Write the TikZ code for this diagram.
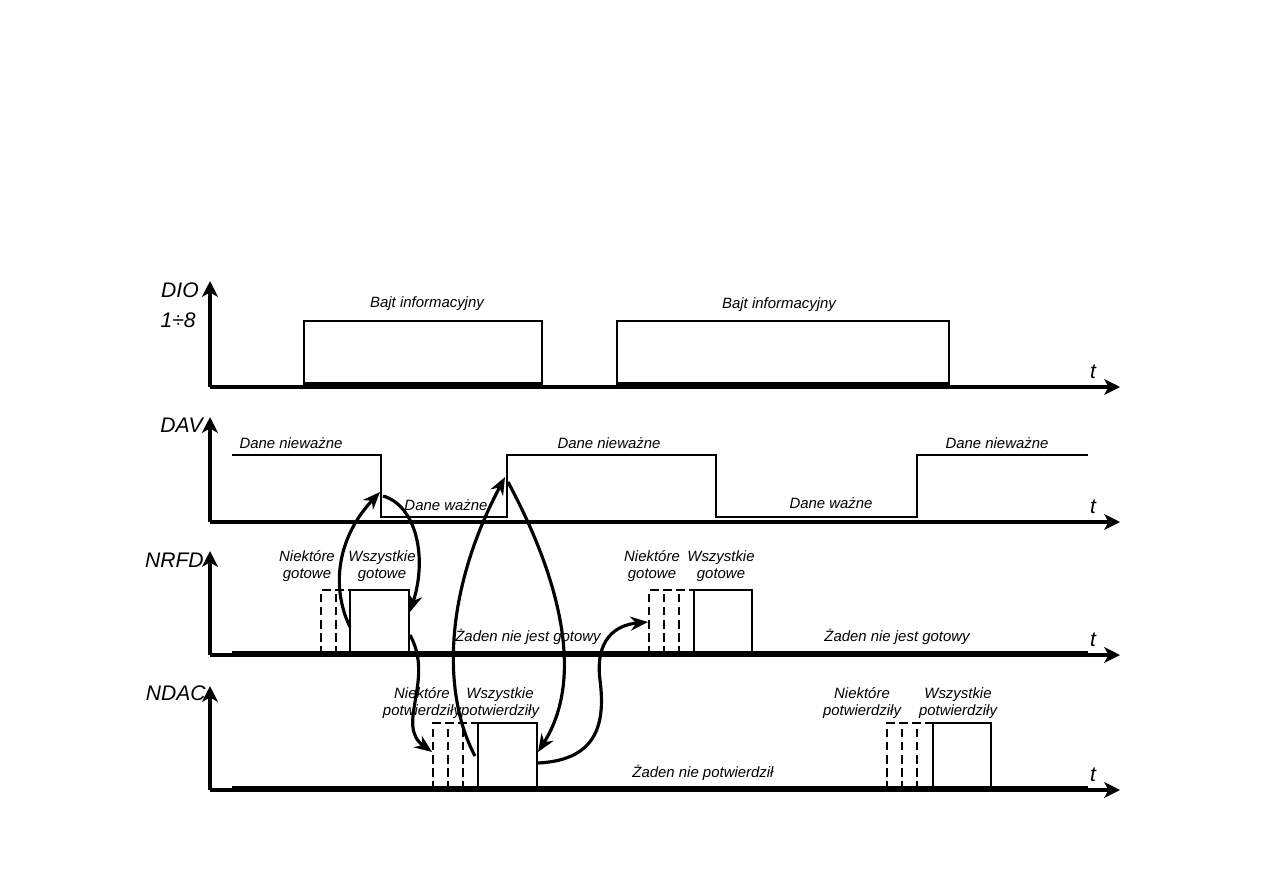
\documentclass[tikz,border=0pt]{standalone}
\usepackage{fontspec}
\setmainfont{Liberation Sans}
\usetikzlibrary{arrows.meta, positioning}

\begin{document}
\begin{tikzpicture}[
    x=0.02cm, y=-0.02cm,
    every node/.style={font=\fontsize{8.5}{10}\selectfont\itshape, align=center, inner sep=0pt},
    signame/.style={font=\fontsize{12}{14}\selectfont\itshape, anchor=east},
    axis/.style={line width=2pt, -{Stealth[length=9pt, width=9pt, inset=2.5pt]}},
    sig/.style={line width=1.6pt},
    hold/.style={line width=3.2pt},
    dsh/.style={line width=1.6pt, dash pattern=on 5pt off 2.5pt},
    flow/.style={line width=1.8pt, -{Stealth[length=10pt, width=8pt]}}
]
\useasboundingbox (0,0) rectangle (1263,893);

% axes
\foreach \y/\top/\nm in {387/281/dio, 522/417/dav, 655/551/nrfd, 790/686/ndac} {
  \coordinate (\nm-o) at (210,\y);
  \draw[axis] (\nm-o) -- (210,\top);
  \draw[axis] (\nm-o) -- (1120,\y);
  \node[font=\fontsize{12}{14}\selectfont\itshape] (\nm-t) at (1093,\y-15) {t};
}
\node[signame] (dio-l) at (199,290) {DIO};
\node[signame] (dio-n) at (196,320) {1÷8};
\node[signame] (dav-l) at (203,425) {DAV};
\node[signame] (nrfd-l) at (204,560) {NRFD};
\node[signame] (ndac-l) at (206,693) {NDAC};

% DIO
\foreach \a/\b in {304/542, 617/949} {
  \draw[sig] (\a,387) -- (\a,321) -- (\b,321) -- (\b,387);
  \draw[hold] (\a,385) -- (\b,385);
}
\node (bajt1) at (427,304) {Bajt informacyjny};
\node (bajt2) at (779,305) {Bajt informacyjny};

% DAV
\draw[sig] (232,455) -- (381,455) -- (381,517) -- (507,517) -- (507,455)
  -- (716,455) -- (716,517) -- (917,517) -- (917,455) -- (1088,455);
\node (inv1) at (291,443) {Dane nieważne};
\node (inv2) at (609,443) {Dane nieważne};
\node (inv3) at (997,443) {Dane nieważne};
\node (val1) at (446,505) {Dane ważne};
\node (val2) at (831,503) {Dane ważne};

% NRFD
\draw[hold] (232,654) -- (1088,654);
\draw[dsh] (321,655) -- (321,590) -- (350,590);
\draw[dsh] (336,655) -- (336,590);
\draw[sig] (350,655) rectangle (409,590);
\draw[dsh] (649,655) -- (649,590) -- (694,590);
\draw[dsh] (664,655) -- (664,590);
\draw[dsh] (679,655) -- (679,590);
\draw[sig] (694,655) rectangle (752,590);
\node (some1) at (307,566) {Niektóre\\gotowe};
\node (all1) at (382,566) {Wszystkie\\gotowe};
\node (some2) at (652,566) {Niektóre\\gotowe};
\node (all2) at (721,566) {Wszystkie\\gotowe};
\node (none1) at (528,637) {Żaden nie jest gotowy};
\node (none2) at (897,637) {Żaden nie jest gotowy};

% NDAC
\draw[hold] (232,789) -- (1088,789);
\draw[dsh] (433,790) -- (433,723) -- (478,723);
\draw[dsh] (448,790) -- (448,723);
\draw[dsh] (463,790) -- (463,723);
\draw[sig] (478,790) rectangle (537,723);
\draw[dsh] (887,790) -- (887,723) -- (933,723);
\draw[dsh] (902,790) -- (902,723);
\draw[dsh] (917,790) -- (917,723);
\draw[sig] (933,790) rectangle (991,723);
\node (ack1) at (422,703) {Niektóre\\potwierdziły};
\node (full1) at (500,703) {Wszystkie\\potwierdziły};
\node (ack2) at (862,703) {Niektóre\\potwierdziły};
\node (full2) at (958,703) {Wszystkie\\potwierdziły};
\node (noack) at (703,773) {Żaden nie potwierdził};

% handshake
\coordinate (rdy-go) at (350,627);
\coordinate (dav-fall) at (380,492);
\coordinate (dav-fall2) at (383,496);
\coordinate (rdy-end) at (410,612);
\coordinate (rdy-go2) at (410,635);
\coordinate (ack-in) at (432,752);
\coordinate (ack-go) at (475,756);
\coordinate (dav-rise) at (505,477);
\coordinate (dav-rise2) at (508,482);
\coordinate (ack-end) at (538,752);
\coordinate (ack-go2) at (538,763);
\coordinate (rdy-in) at (648,622);
\draw[flow] (rdy-go) .. controls (332,590) and (335,540) .. (dav-fall);
\draw[flow] (dav-fall2) .. controls (415,505) and (428,555) .. (rdy-end);
\draw[flow] (rdy-go2) .. controls (435,680) and (395,725) .. (ack-in);
\draw[flow] (ack-go) .. controls (445,700) and (440,600) .. (dav-rise);
\draw[flow] (dav-rise2) .. controls (550,560) and (590,670) .. (ack-end);
\draw[flow] (ack-go2) .. controls (600,760) and (605,720) .. (600,680)
  .. controls (595,640) and (615,625) .. (rdy-in);
\end{tikzpicture}
\end{document}
